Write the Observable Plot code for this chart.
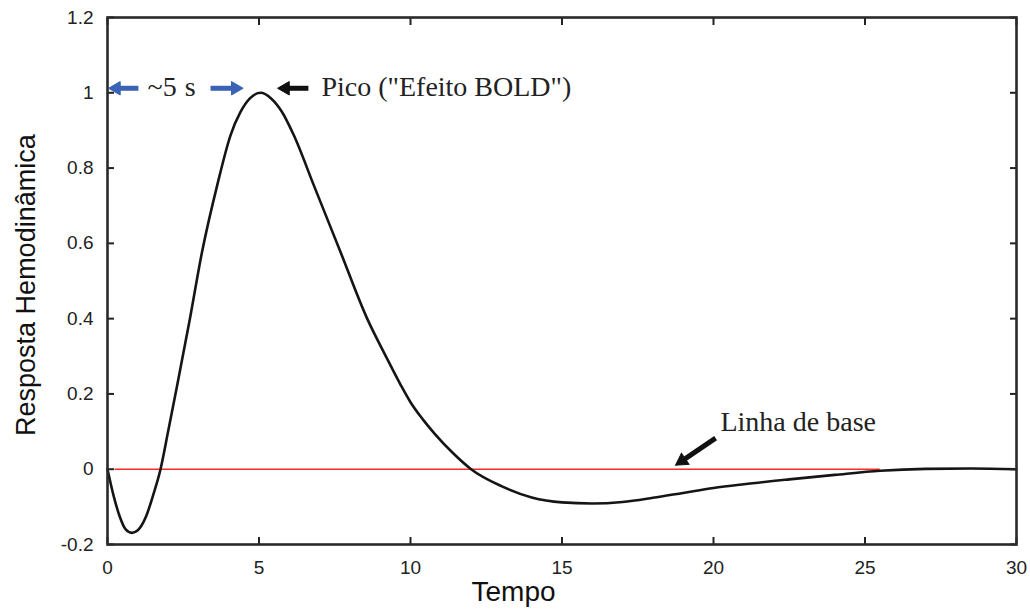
<!DOCTYPE html>
<html>
<head>
<meta charset="utf-8">
<script src="https://cdn.jsdelivr.net/npm/d3@7"></script>
<script src="https://cdn.jsdelivr.net/npm/@observablehq/plot@0.6"></script>
<style>
  html, body { margin: 0; padding: 0; background: #fff; }
  #chart svg { display: block; }
</style>
</head>
<body>
<div id="chart"></div>
<script>
// Hemodynamic response curve
const tempo    = [0, 0.2, 0.4, 0.6, 0.8, 1.0, 1.275, 1.51, 1.75, 2.0, 2.3, 2.72, 3.12, 3.62, 4.06, 4.39, 4.7, 5.05, 5.4, 5.76, 6.15, 6.81, 7.69, 8.57, 9.2, 9.67, 10.0, 10.4, 10.8, 11.4, 12.0, 13.0, 14.0, 15.0, 16.0, 17.0, 18.0, 19.0, 20.0, 21.0, 22.5, 24.0, 25.5, 27.0, 28.5, 30.0];
const resposta = [0, -0.07, -0.125, -0.16, -0.169, -0.162, -0.125, -0.068, 0.0, 0.1, 0.223, 0.40, 0.577, 0.754, 0.887, 0.949, 0.985, 1.0, 0.985, 0.949, 0.887, 0.754, 0.577, 0.40, 0.298, 0.225, 0.178, 0.133, 0.094, 0.043, 0.0, -0.045, -0.075, -0.088, -0.091, -0.087, -0.076, -0.063, -0.05, -0.04, -0.027, -0.015, -0.004, 0.001, 0.002, 0.0];

const xTicks = [0, 5, 10, 15, 20, 25, 30];
const yTicks = [-0.2, 0, 0.2, 0.4, 0.6, 0.8, 1, 1.2];

// baseline (red)
const baseStart = [0.25];
const baseEnd = [25.5];

// annotation arrows: shaft from (x1,y1) to (x2,y2), head centred at (hx,hy)
const arrowX1 = [1.02, 3.40, 6.63, 20.07];
const arrowY1 = [1.012, 1.012, 1.012, 0.0825];
const arrowX2 = [0.36, 4.12, 5.94, 19.01];
const arrowY2 = [1.012, 1.012, 1.012, 0.025];
const headX   = [0.29, 4.22, 5.87, 18.96];
const headY   = [1.012, 1.012, 1.012, 0.022];
const headRot = [-90, 90, -90, -124];
const arrowColor = ["#3a62b5", "#3a62b5", "#111111", "#111111"];

// annotation texts
const noteText = ["~5", "s", "Pico (\"Efeito BOLD\")", "Linha de base"];
const noteX    = [1.32, 2.55, 7.06, 20.23];
const noteY    = [1.016, 1.016, 1.016, 0.125];
const noteItalic = ["normal", "italic", "normal", "normal"];

const curve = tempo.map((t, i) => ({t, r: resposta[i]}));
const arrows = arrowX1.map((_, i) => ({x1: arrowX1[i], y1: arrowY1[i], x2: arrowX2[i], y2: arrowY2[i], hx: headX[i], hy: headY[i], rot: headRot[i], c: arrowColor[i]}));
const notes = noteText.map((s, i) => ({s, x: noteX[i], y: noteY[i], style: noteItalic[i]}));

const fmt = d => (Math.round(d * 10) / 10).toString();

const chart = Plot.plot({
  width: 1030,
  height: 610,
  marginLeft: 107,
  marginRight: 14,
  marginTop: 17,
  marginBottom: 66,
  style: {fontFamily: "'Liberation Sans', Arial, sans-serif", fontSize: "19px", color: "#222", background: "#fff"},
  x: {domain: [0, 30]},
  y: {domain: [-0.2, 1.2]},
  marks: [
    Plot.ruleY([0], {x1: baseStart[0], x2: baseEnd[0], stroke: "#ff2a2a", strokeWidth: 1.6}),
    Plot.line(curve, {x: "t", y: "r", stroke: "#151515", strokeWidth: 2.6, curve: "monotone-x"}),
    Plot.axisX(xTicks, {anchor: "bottom", tickSize: -7, tickPadding: 23, tickFormat: fmt, label: null, stroke: "#222", strokeWidth: 2, fill: "#222"}),
    Plot.axisX(xTicks, {anchor: "top", tickSize: -7, tickFormat: () => "", label: null, stroke: "#222", strokeWidth: 2}),
    Plot.axisY(yTicks, {anchor: "left", tickSize: -7, tickPadding: 21, tickFormat: fmt, label: null, stroke: "#222", strokeWidth: 2, fill: "#222"}),
    Plot.axisY(yTicks, {anchor: "right", tickSize: -7, tickFormat: () => "", label: null, stroke: "#222", strokeWidth: 2}),
    Plot.frame({stroke: "#2a2a2a", strokeWidth: 2.6}),
    Plot.link(arrows, {x1: "x1", y1: "y1", x2: "x2", y2: "y2", stroke: "c", strokeWidth: 5}),
    Plot.dot(arrows, {x: "hx", y: "hy", symbol: "triangle", r: 5, fill: "c", stroke: "c", strokeWidth: 1, rotate: "rot"}),
    Plot.text(notes, {x: "x", y: "y", text: "s", textAnchor: "start", fontFamily: "'Liberation Serif', 'Times New Roman', serif", fontSize: 28, fontStyle: "style", fill: "#222"}),
    Plot.text(["Tempo"], {x: 13.4, frameAnchor: "bottom", lineAnchor: "middle", textAnchor: "middle", dy: 48, fontSize: 28, fill: "#111"}),
    Plot.text(["Resposta Hemodinâmica"], {y: 0.489, frameAnchor: "left", lineAnchor: "middle", textAnchor: "middle", dx: -81, rotate: -90, fontSize: 27, fill: "#111"})
  ]
});
document.getElementById("chart").appendChild(chart);
</script>
</body>
</html>
